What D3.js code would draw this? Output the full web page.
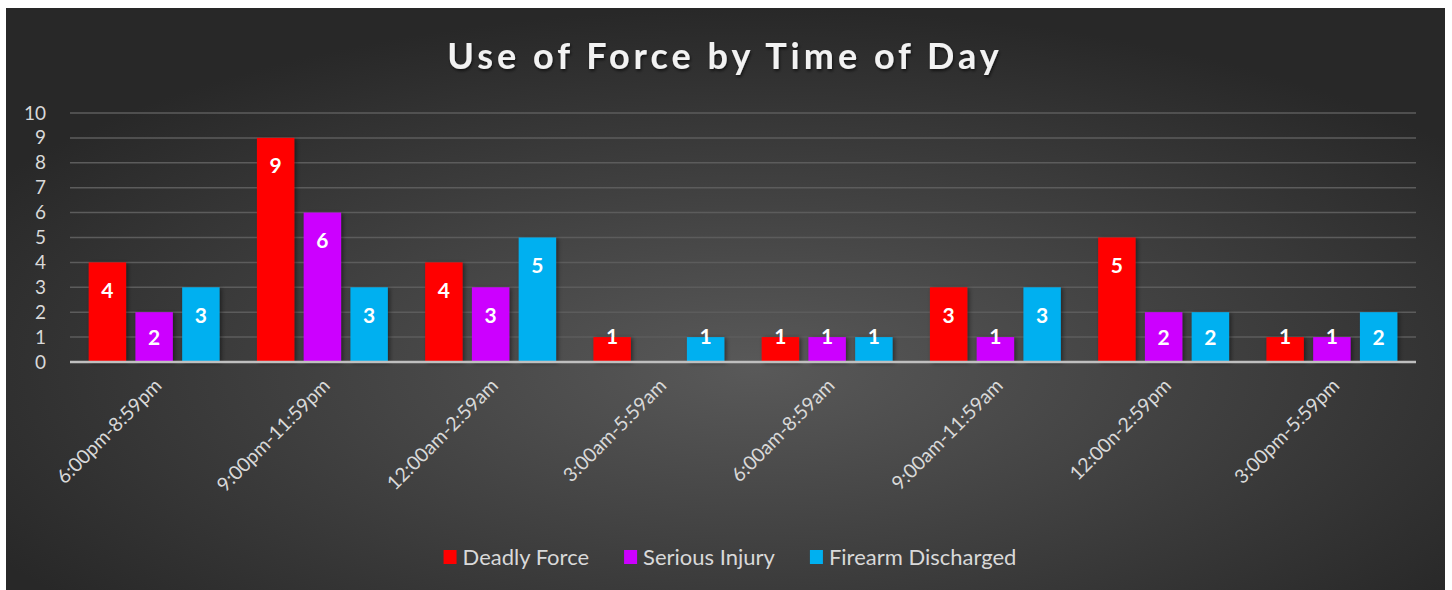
<!DOCTYPE html>
<html>
<head>
<meta charset="utf-8">
<script src="https://cdn.jsdelivr.net/npm/d3@7"></script>
<style>
  html, body { margin: 0; padding: 0; background: #fff; }
  svg text { font-family: Lato, "Open Sans", sans-serif; }
</style>
</head>
<body>
<div id="chart"></div>
<script>
// data
const categories = ["6:00pm-8:59pm", "9:00pm-11:59pm", "12:00am-2:59am", "3:00am-5:59am",
  "6:00am-8:59am", "9:00am-11:59am", "12:00n-2:59pm", "3:00pm-5:59pm"];
const seriesNames = ["Deadly Force", "Serious Injury", "Firearm Discharged"];
const deadlyForce = [4, 9, 4, 1, 1, 3, 5, 1];
const seriousInjury = [2, 6, 3, 0, 1, 1, 2, 1];
const firearmDischarged = [3, 3, 5, 1, 1, 3, 2, 2];
const yTicks = [0, 1, 2, 3, 4, 5, 6, 7, 8, 9, 10];

const colors = ["#ff0000", "#cc00ff", "#00b0f0"];
const values = [deadlyForce, seriousInjury, firearmDischarged];

const width = 1452, height = 590;

const svg = d3.select("#chart").append("svg")
  .attr("width", width).attr("height", height);

const defs = svg.append("defs");
const grad = defs.append("radialGradient").attr("id", "bg")
  .attr("cx", "52%").attr("cy", "62%").attr("r", "62%");
grad.append("stop").attr("offset", "0%").attr("stop-color", "#595959");
grad.append("stop").attr("offset", "100%").attr("stop-color", "#282828");

const shadow = defs.append("filter").attr("id", "shadow")
  .attr("x", "-20%").attr("y", "-20%").attr("width", "150%").attr("height", "150%");
shadow.append("feDropShadow").attr("dx", 2).attr("dy", 1).attr("stdDeviation", 2)
  .attr("flood-color", "#000").attr("flood-opacity", 0.45);

const tshadow = defs.append("filter").attr("id", "tshadow");
tshadow.append("feDropShadow").attr("dx", 1).attr("dy", 2).attr("stdDeviation", 1.5)
  .attr("flood-color", "#000").attr("flood-opacity", 0.6);

// background panel
svg.append("rect")
  .attr("x", 6).attr("y", 8).attr("width", 1439).attr("height", 582)
  .attr("fill", "url(#bg)");

// title
svg.append("text")
  .attr("x", 725).attr("y", 69)
  .attr("text-anchor", "middle")
  .attr("fill", "#f2f2f2")
  .style("font-size", "36px").style("font-weight", "bold")
  .style("letter-spacing", "4px")
  .attr("filter", "url(#tshadow)")
  .text("Use of Force by Time of Day");

// scales
const y = d3.scaleLinear().domain([0, 10]).range([362, 113]);
const x0 = d3.scaleBand().domain(categories).range([70, 1416]).padding(0);
const groupW = x0.bandwidth() * 0.778;
const x1 = d3.scaleBand().domain(seriesNames).range([0, groupW]).paddingInner(0.2);
const groupOffset = (x0.bandwidth() - groupW) / 2;

// gridlines
svg.append("g")
  .selectAll("line")
  .data(yTicks.filter(d => d > 0))
  .join("line")
  .attr("x1", 70).attr("x2", 1416)
  .attr("y1", d => y(d)).attr("y2", d => y(d))
  .attr("stroke", "#5c5c5c").attr("stroke-width", 1.5);

// y axis labels
const yAxis = svg.append("g")
  .attr("transform", "translate(70,0)")
  .call(d3.axisLeft(y).tickValues(yTicks).tickSize(0).tickPadding(24));
yAxis.select(".domain").remove();
yAxis.selectAll("text")
  .attr("fill", "#d9d9d9")
  .style("font-size", "19px");

// bars
const groups = svg.append("g")
  .selectAll("g")
  .data(categories)
  .join("g")
  .attr("transform", d => `translate(${x0(d) + groupOffset},0)`);

const cells = groups.selectAll("g")
  .data((d, i) => seriesNames.map((s, j) => ({ cat: d, series: s, j, value: values[j][i] })))
  .join("g");

cells.filter(d => d.value > 0).append("rect")
  .attr("x", d => x1(d.series))
  .attr("y", d => y(d.value))
  .attr("width", x1.bandwidth())
  .attr("height", d => y(0) - y(d.value))
  .attr("fill", d => colors[d.j])
  .attr("filter", "url(#shadow)");

cells.filter(d => d.value > 0).append("text")
  .attr("x", d => x1(d.series) + x1.bandwidth() / 2)
  .attr("y", d => {
    const top = y(d.value), h = y(0) - top;
    return h > 40 ? top + Math.min(28, h / 2) : top - 1;
  })
  .attr("dy", "0.36em")
  .attr("text-anchor", "middle")
  .attr("fill", "#fff")
  .style("font-size", "21px").style("font-weight", "bold")
  .text(d => d.value);

// x axis line
svg.append("line")
  .attr("x1", 70).attr("x2", 1416)
  .attr("y1", y(0)).attr("y2", y(0))
  .attr("stroke", "#bfbfbf").attr("stroke-width", 2.5);

// x labels
svg.append("g")
  .selectAll("text")
  .data(categories)
  .join("text")
  .attr("transform", d => `translate(${x0(d) + x0.bandwidth() / 2 + 4},${y(0) + 20}) rotate(-45)`)
  .attr("text-anchor", "end")
  .attr("dy", "0.35em")
  .attr("fill", "#d9d9d9")
  .style("font-size", "19.5px")
  .text(d => d);

// legend
const legend = svg.append("g");
const items = legend.selectAll("g").data(seriesNames).join("g");
items.append("rect")
  .attr("width", 13).attr("height", 14)
  .attr("y", -7)
  .attr("fill", (d, i) => colors[i]);
items.append("text")
  .attr("x", 19).attr("dy", "0.35em")
  .attr("fill", "#d9d9d9")
  .style("font-size", "22px")
  .text(d => d);

let lx = 0;
items.each(function () {
  d3.select(this).attr("transform", `translate(${lx},0)`);
  const w = d3.select(this).select("text").node().getComputedTextLength();
  lx += 19 + w + 35;
});
const totalW = lx - 35;
legend.attr("transform", `translate(${730 - totalW / 2},557)`);
</script>
</body>
</html>
